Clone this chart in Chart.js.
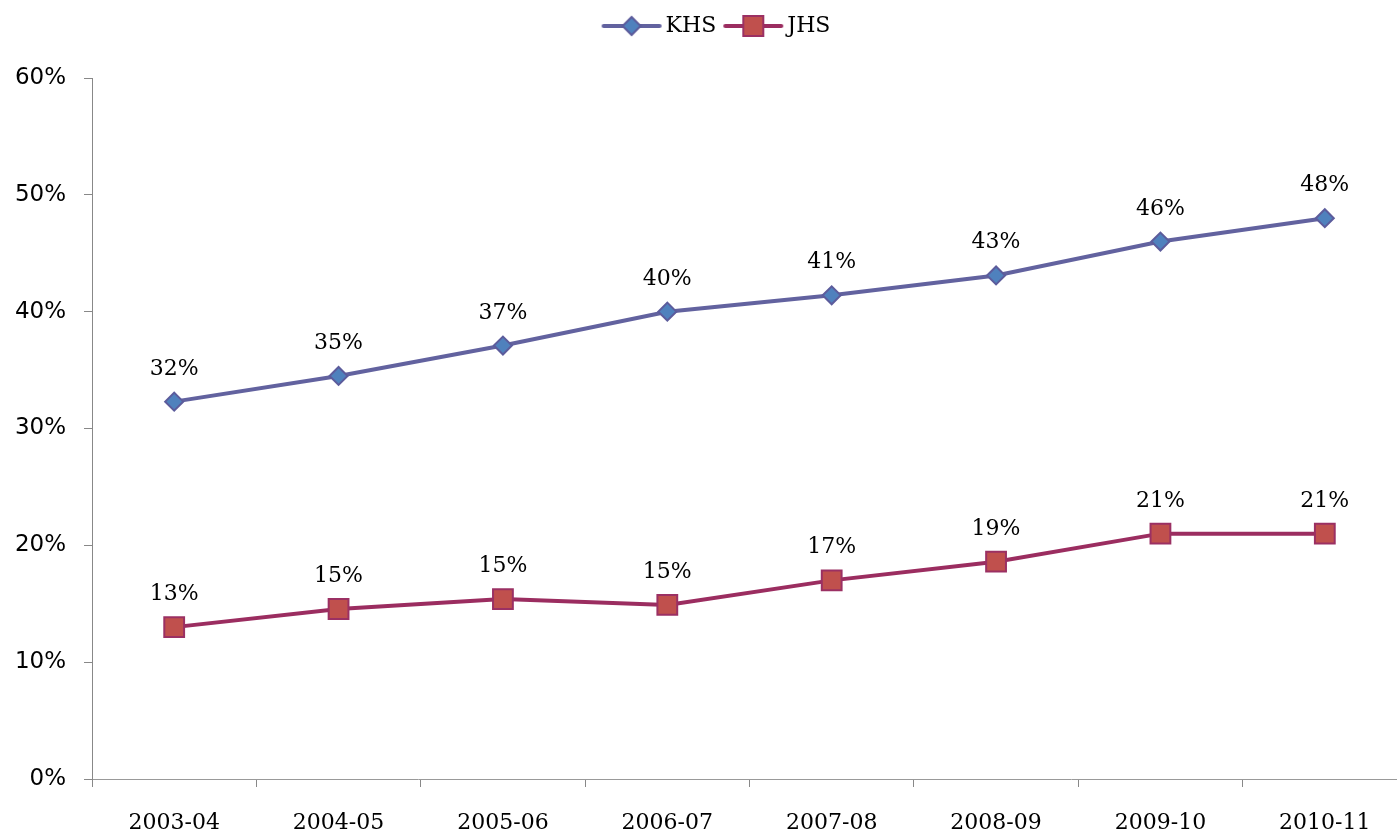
<!DOCTYPE html>
<html>
<head>
<meta charset="utf-8">
<script src="https://cdn.jsdelivr.net/npm/chart.js@4/dist/chart.umd.min.js"></script>
<style>
  html, body { margin: 0; padding: 0; background: #fff; overflow: hidden; }
  #wrap { width: 1397px; height: 834px; position: relative; }
</style>
</head>
<body>
<div id="wrap"><canvas id="c"></canvas></div>
<script>
const categories = ['2003-04', '2004-05', '2005-06', '2006-07', '2007-08', '2008-09', '2009-10', '2010-11'];
const khsValues = [32.3, 34.5, 37.1, 40.0, 41.4, 43.1, 46.0, 48.0];
const jhsValues = [13.0, 14.55, 15.4, 14.9, 17.0, 18.6, 21.0, 21.0];
const seriesNames = ['KHS', 'JHS'];
const yTicks = [0, 10, 20, 30, 40, 50, 60];

const KHS_LINE = '#62629f', KHS_FILL = '#4f81bd', KHS_BORDER = '#5c5c9c';
const JHS_LINE = '#9b2d60', JHS_FILL = '#c0504d', JHS_BORDER = '#9b3063';

function legendIcon(kind, line, fill, border) {
  const cv = document.createElement('canvas');
  cv.width = 62; cv.height = 26;
  const g = cv.getContext('2d');
  g.strokeStyle = line; g.lineWidth = 4; g.lineCap = 'round';
  g.beginPath(); g.moveTo(3, 13); g.lineTo(59, 13); g.stroke();
  g.fillStyle = fill; g.strokeStyle = border; g.lineWidth = 2;
  g.beginPath();
  if (kind === 'diamond') {
    g.moveTo(31, 4); g.lineTo(40, 13); g.lineTo(31, 22); g.lineTo(22, 13); g.closePath();
  } else {
    g.rect(21, 3, 20, 20);
  }
  g.fill(); g.stroke();
  return cv;
}
const icons = [legendIcon('diamond', KHS_LINE, KHS_FILL, KHS_BORDER), legendIcon('square', JHS_LINE, JHS_FILL, JHS_BORDER)];

const valueLabels = {
  id: 'valueLabels',
  afterDatasetsDraw(chart) {
    const ctx = chart.ctx;
    ctx.save();
    ctx.font = '22px "DejaVu Serif"';
    ctx.fillStyle = '#000';
    ctx.textAlign = 'center';
    ctx.textBaseline = 'alphabetic';
    chart.data.datasets.forEach((ds, di) => {
      const meta = chart.getDatasetMeta(di);
      meta.data.forEach((pt, i) => {
        ctx.fillText(Math.round(ds.data[i]) + '%', pt.x, pt.y - 27);
      });
    });
    ctx.restore();
  }
};

// The reference plot area runs past the right edge of the picture (to x = 1407).
const PLOT_RIGHT = 1407;
const layoutFix = {
  id: 'layoutFix',
  beforeLayout(chart) {
    const lg = chart.legend;
    if (lg && !lg._fixed) {
      lg._fixed = true;
      const origFit = lg.fit;
      lg.fit = function () { origFit.call(this); this.height = 78; };
    }
  },
  afterLayout(chart) {
    const lg = chart.legend;
    if (lg) { lg.top += 1; lg.left = 16; lg.right = 1423; }
    const x = chart.scales.x;
    x.right = PLOT_RIGHT;
    x.width = PLOT_RIGHT - x.left;
    x.configure();
    chart.chartArea.right = PLOT_RIGHT;
    chart.chartArea.width = PLOT_RIGHT - chart.chartArea.left;
  }
};

function noPad(s) { s.paddingLeft = 0; s.paddingRight = 0; }

new Chart(document.getElementById('c'), {
  type: 'line',
  data: {
    labels: categories,
    datasets: [
      {
        label: seriesNames[0], data: khsValues,
        borderColor: KHS_LINE, borderWidth: 4, backgroundColor: KHS_FILL,
        pointStyle: 'rectRot', pointRadius: 9, pointBackgroundColor: KHS_FILL,
        pointBorderColor: KHS_BORDER, pointBorderWidth: 2, tension: 0
      },
      {
        label: seriesNames[1], data: jhsValues,
        borderColor: JHS_LINE, borderWidth: 4, backgroundColor: JHS_FILL,
        pointStyle: 'rect', pointRadius: 14, pointBackgroundColor: JHS_FILL,
        pointBorderColor: JHS_BORDER, pointBorderWidth: 2, tension: 0
      }
    ]
  },
  options: {
    responsive: true,
    maintainAspectRatio: false,
    animation: false,
    layout: { padding: { left: 0, right: 0, top: 0, bottom: 0 } },
    plugins: {
      tooltip: { enabled: false },
      legend: {
        position: 'top',
        labels: {
          usePointStyle: true,
          pointStyleWidth: 46,
          padding: 14,
          color: '#000',
          font: { family: '"DejaVu Serif"', size: 22 },
          generateLabels(chart) {
            return chart.data.datasets.map((ds, i) => ({
              text: ds.label, datasetIndex: i, pointStyle: icons[i],
              fillStyle: ds.backgroundColor, strokeStyle: ds.borderColor, lineWidth: 0,
              fontColor: '#000', hidden: false
            }));
          }
        }
      }
    },
    scales: {
      x: {
        type: 'category',
        offset: true,
        afterFit(s) { s.height = 55; noPad(s); },
        grid: { display: true, offset: true, drawOnChartArea: false, drawTicks: true, tickLength: 8, color: '#888', lineWidth: 1 },
        border: { display: true, color: '#999', width: 1 },
        ticks: { color: '#000', font: { family: '"DejaVu Serif"', size: 22 }, padding: 23, maxRotation: 0, autoSkip: false }
      },
      y: {
        min: yTicks[0], max: yTicks[yTicks.length - 1],
        afterFit(s) { s.width = 92; noPad(s); },
        afterBuildTicks(s) { s.ticks = yTicks.map(v => ({ value: v })); },
        grid: { display: true, drawOnChartArea: false, drawTicks: true, tickLength: 8, color: '#888', lineWidth: 1 },
        border: { display: true, color: '#888', width: 1 },
        ticks: { color: '#000', font: { family: '"DejaVu Sans"', size: 23 }, padding: 18, callback: v => v + '%' }
      }
    }
  },
  plugins: [valueLabels, layoutFix]
});
</script>
</body>
</html>
